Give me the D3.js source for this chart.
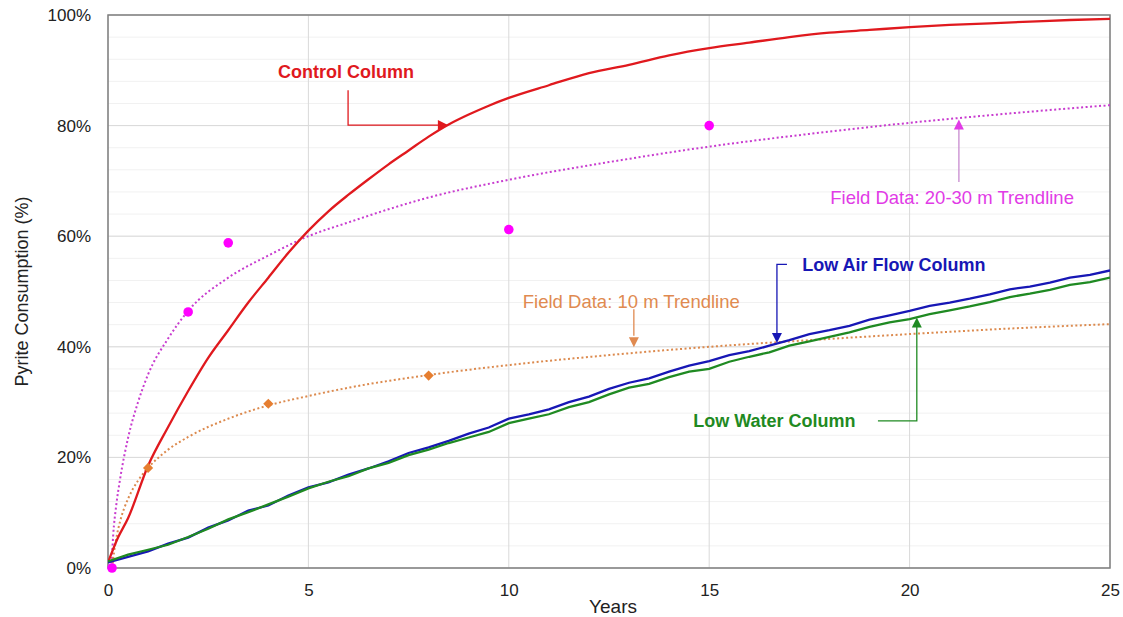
<!DOCTYPE html>
<html>
<head>
<meta charset="utf-8">
<script src="https://cdn.jsdelivr.net/npm/d3@7"></script>
<style>
  body { margin: 0; background: #fff; }
  text { font-family: Arial, "Liberation Sans", sans-serif; }
</style>
</head>
<body>
<div id="plot"></div>
<script>
// pyrite consumption data (years, %)
const halfYears = d3.range(0, 25.5, 0.5);
const controlYears = [0, 0.25, 0.5, 1, 1.5, 2, 2.5, 3, 3.5, 4, 4.5, 5, 5.5, 6, 6.5, 7, 7.5, 8, 8.5, 9, 9.5, 10, 11, 12, 13, 14, 15, 16, 17, 18, 19, 20, 21, 22, 23, 24, 25];
const controlVals = [1, 5.5, 9, 18.5, 25.5, 32, 38, 43, 48, 52.5, 57, 61, 64.5, 67.5, 70.3, 73, 75.5, 78, 80.2, 82, 83.6, 85, 87.3, 89.5, 91, 92.7, 94, 95, 96, 96.8, 97.3, 97.8, 98.2, 98.5, 98.8, 99.1, 99.3];
const lowAirVals = [1.0, 2.0, 3.0, 4.4, 5.5, 7.3, 8.6, 10.4, 11.3, 13.1, 14.6, 15.5, 16.9, 18.0, 19.3, 20.8, 21.8, 23.0, 24.3, 25.4, 27.0, 27.8, 28.7, 30.0, 31.0, 32.4, 33.5, 34.3, 35.5, 36.6, 37.4, 38.5, 39.2, 40.2, 41.2, 42.3, 43.0, 43.8, 44.9, 45.7, 46.5, 47.4, 48.0, 48.7, 49.5, 50.4, 50.9, 51.6, 52.5, 53.0, 53.8];
const lowWaterVals = [1.2, 2.4, 3.3, 4.2, 5.6, 7.1, 8.8, 10.1, 11.5, 12.9, 14.4, 15.6, 16.6, 18.0, 19.0, 20.4, 21.4, 22.6, 23.6, 24.6, 26.2, 27.0, 27.8, 29.1, 30.0, 31.4, 32.6, 33.3, 34.5, 35.5, 36.0, 37.3, 38.2, 39.0, 40.2, 41.0, 41.8, 42.6, 43.6, 44.4, 45.0, 45.9, 46.6, 47.3, 48.1, 49.0, 49.6, 50.3, 51.2, 51.7, 52.5];

const field2030Years = [0.1, 2, 3, 10, 15];
const field2030Vals = [0, 46.3, 58.8, 61.2, 80];
const trend2030Years = [0.085, 0.13, 0.2, 0.3, 0.5, 0.75, 1, 1.5, 2, 3, 4, 5, 6, 8, 10, 12.5, 15, 17.5, 20, 22.5, 25];
const trend2030Vals = [0, 6, 11, 16, 23.5, 30, 35, 41.5, 46.5, 52.5, 56.5, 60, 62.5, 67, 70.2, 73.4, 76.2, 78.5, 80.5, 82.2, 83.7];

const field10Years = [1, 4, 8];
const field10Vals = [18.1, 29.7, 34.8];
const trend10Years = [0.106, 0.15, 0.2, 0.3, 0.5, 0.75, 1, 1.5, 2, 3, 4, 5, 6, 8, 10, 12.5, 15, 17.5, 20, 22.5, 25];
const trend10Vals = [0, 2.8, 5.1, 8.4, 12.5, 15.8, 18.1, 21.4, 23.7, 27, 29.4, 31.1, 32.6, 34.9, 36.7, 38.5, 40, 41.2, 42.3, 43.3, 44.1];

const xTicks = [0, 5, 10, 15, 20, 25];
const yTicks = [0, 20, 40, 60, 80, 100];
const yMinor = d3.range(0, 101, 4);

const margin = {left: 108, top: 15, right: 13, bottom: 49};
const width = 1123 - margin.left - margin.right;
const height = 617 - margin.top - margin.bottom;

const svg = d3.select("#plot").append("svg")
  .attr("width", 1123).attr("height", 617)
  .append("g")
  .attr("transform", "translate(" + margin.left + "," + margin.top + ")");

const x = d3.scaleLinear().domain([0, 25]).range([0, width]);
const y = d3.scaleLinear().domain([0, 100]).range([height, 0]);

// gridlines
svg.append("g").selectAll("line").data(yMinor).enter().append("line")
  .attr("x1", 0).attr("x2", width)
  .attr("y1", d => y(d)).attr("y2", d => y(d))
  .attr("stroke", "#f1f1f1").attr("stroke-width", 1);
svg.append("g").selectAll("line").data(yTicks).enter().append("line")
  .attr("x1", 0).attr("x2", width)
  .attr("y1", d => y(d)).attr("y2", d => y(d))
  .attr("stroke", "#d9d9d9").attr("stroke-width", 1);
svg.append("g").selectAll("line").data(xTicks).enter().append("line")
  .attr("x1", d => x(d)).attr("x2", d => x(d))
  .attr("y1", 0).attr("y2", height)
  .attr("stroke", "#d9d9d9").attr("stroke-width", 1);

// frame
svg.append("rect").attr("x", 0).attr("y", 0).attr("width", width).attr("height", height)
  .attr("fill", "none").attr("stroke", "#7f7f7f").attr("stroke-width", 1.5);

// axes
const xAxis = d3.axisBottom(x).tickValues(xTicks).tickSize(0).tickPadding(16).tickFormat(d3.format("d"));
svg.append("g").attr("transform", "translate(0," + height + ")").call(xAxis)
  .call(g => g.select(".domain").remove())
  .selectAll("text").style("font-size", "17px").attr("fill", "#222");
const yAxis = d3.axisLeft(y).tickValues(yTicks).tickSize(0).tickPadding(17).tickFormat(d => d + "%");
svg.append("g").call(yAxis)
  .call(g => g.select(".domain").remove())
  .selectAll("text").style("font-size", "17px").attr("fill", "#222");

svg.append("text").attr("x", x(12.6)).attr("y", height + 45).attr("text-anchor", "middle")
  .style("font-size", "19px").attr("fill", "#222").text("Years");
svg.append("text").attr("transform", "translate(-80," + (height / 2) + ") rotate(-90)")
  .attr("text-anchor", "middle").style("font-size", "18px").attr("fill", "#222")
  .text("Pyrite Consumption (%)");

// clip for the series
svg.append("clipPath").attr("id", "clip").append("rect").attr("width", width).attr("height", height);
const plotArea = svg.append("g").attr("clip-path", "url(#clip)");

const line = d3.line().x(d => x(d[0])).y(d => y(d[1]));
const smooth = d3.line().x(d => x(d[0])).y(d => y(d[1])).curve(d3.curveMonotoneX);

plotArea.append("path").datum(d3.zip(trend2030Years, trend2030Vals)).attr("d", smooth)
  .attr("fill", "none").attr("stroke", "#c83ccf").attr("stroke-width", 2).attr("stroke-dasharray", "2,2.5");
plotArea.append("path").datum(d3.zip(trend10Years, trend10Vals)).attr("d", smooth)
  .attr("fill", "none").attr("stroke", "#dc8a4e").attr("stroke-width", 2).attr("stroke-dasharray", "2,2.5");

plotArea.append("path").datum(d3.zip(controlYears, controlVals)).attr("d", smooth)
  .attr("fill", "none").attr("stroke", "#e0191e").attr("stroke-width", 2.3);
plotArea.append("path").datum(d3.zip(halfYears, lowAirVals)).attr("d", line)
  .attr("fill", "none").attr("stroke", "#1717b5").attr("stroke-width", 2.3);
plotArea.append("path").datum(d3.zip(halfYears, lowWaterVals)).attr("d", line)
  .attr("fill", "none").attr("stroke", "#1f8a22").attr("stroke-width", 2.3);

// field points
svg.append("g").selectAll("path").data(d3.zip(field10Years, field10Vals)).enter().append("path")
  .attr("d", d3.symbol().type(d3.symbolSquare).size(52))
  .attr("transform", d => "translate(" + x(d[0]) + "," + y(d[1]) + ") rotate(45)")
  .attr("fill", "#e67e30");
svg.append("g").selectAll("circle").data(d3.zip(field2030Years, field2030Vals)).enter().append("circle")
  .attr("cx", d => x(d[0])).attr("cy", d => y(d[1])).attr("r", 4.8)
  .attr("fill", "#ff00ff");

// annotations
function arrowHead(px, py, dir, color) {
  // dir: "right", "up", "down"
  const s = 5, l = 10;
  let pts;
  if (dir === "right") pts = [[px, py], [px - l, py - s], [px - l, py + s]];
  if (dir === "up") pts = [[px, py], [px - s, py + l], [px + s, py + l]];
  if (dir === "down") pts = [[px, py], [px - s, py - l], [px + s, py - l]];
  svg.append("path").attr("d", "M" + pts.join("L") + "Z").attr("fill", color);
}
function leader(points, color) {
  svg.append("path").attr("d", d3.line()(points.map(p => [x(p[0]), y(p[1])])))
    .attr("fill", "none").attr("stroke", color).attr("stroke-width", 1.3);
}

svg.append("text").attr("x", x(4.24)).attr("y", y(88.6)).attr("fill", "#e0191e")
  .style("font-size", "18px").style("font-weight", "bold").text("Control Column");
leader([[5.99, 86.4], [5.99, 80.1], [8.3, 80.1]], "#e0191e");
arrowHead(x(8.48), y(80.1), "right", "#e0191e");

svg.append("text").attr("x", x(18.02)).attr("y", y(65.9)).attr("fill", "#e13be6")
  .style("font-size", "18.5px").text("Field Data: 20-30 m Trendline");
leader([[21.23, 69.8], [21.23, 79.5]], "#c88ad0");
arrowHead(x(21.23), y(81.1), "up", "#e13be6");

svg.append("text").attr("x", x(17.32)).attr("y", y(53.7)).attr("fill", "#1717b5")
  .style("font-size", "18px").style("font-weight", "bold").text("Low Air Flow Column");
leader([[16.94, 54.9], [16.69, 54.9], [16.69, 42]], "#1717b5");
arrowHead(x(16.69), y(40.7), "down", "#1717b5");

svg.append("text").attr("x", x(10.35)).attr("y", y(47)).attr("fill", "#e08a50")
  .style("font-size", "18.5px").text("Field Data: 10 m Trendline");
leader([[13.12, 46.8], [13.12, 42]], "#e08a50");
arrowHead(x(13.12), y(39.9), "down", "#e08a50");

svg.append("text").attr("x", x(14.6)).attr("y", y(25.5)).attr("fill", "#1f8a22")
  .style("font-size", "18px").style("font-weight", "bold").text("Low Water Column");
leader([[19.21, 26.6], [20.18, 26.6], [20.18, 44]], "#1f8a22");
arrowHead(x(20.18), y(45.3), "up", "#1f8a22");
</script>
</body>
</html>
